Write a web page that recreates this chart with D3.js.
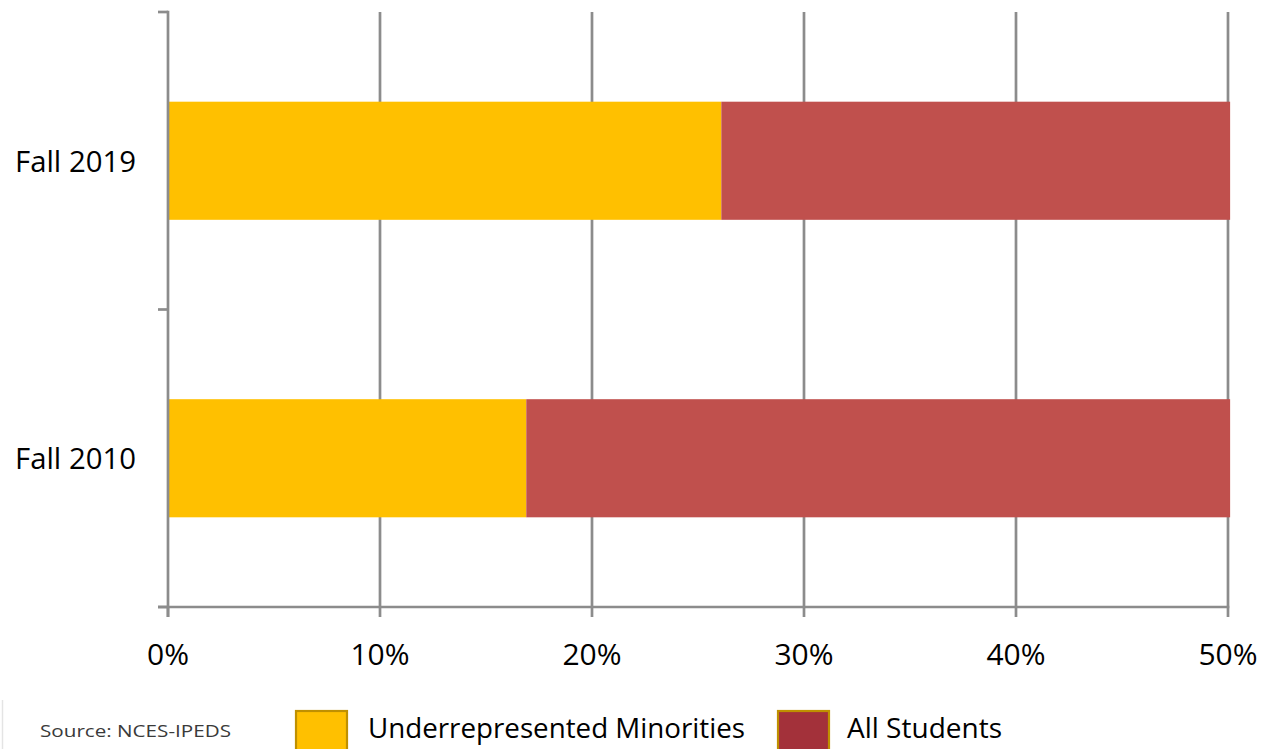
<!DOCTYPE html>
<html>
<head>
<meta charset="utf-8">
<script src="https://cdn.jsdelivr.net/npm/d3@7"></script>
<style>
  html, body { margin: 0; padding: 0; background: #fff; }
  svg { display: block; }
  text { font-family: "Open Sans", "Noto Sans", sans-serif; fill: #000; }
</style>
</head>
<body>
<svg id="chart" width="1275" height="749"></svg>
<script>
// Enrollment share by term (stacked horizontal bars)
const categories = ["Fall 2019", "Fall 2010"];
const seriesNames = ["Underrepresented Minorities", "All Students"];
const urmValues = [0.261, 0.169];
const allStudentsValues = [0.240, 0.332];
const xTickValues = [0, 0.1, 0.2, 0.3, 0.4, 0.5];
const sourceNote = "Source: NCES-IPEDS";

const colors = { "Underrepresented Minorities": "#FFC000", "All Students": "#C0504D" };
const legendFill = { "Underrepresented Minorities": "#FFC000", "All Students": "#A3313A" };
const gridColor = "#8C8C8C";

const svg = d3.select("#chart");
const plotLeft = 168, plotRight = 1228, plotTop = 12, plotBottom = 607;

const rows = categories.map((c, i) => ({
  category: c,
  "Underrepresented Minorities": urmValues[i],
  "All Students": allStudentsValues[i]
}));
const stacked = d3.stack().keys(seriesNames)(rows);

const x = d3.scaleLinear().domain([0, 0.5]).range([plotLeft, plotRight]);
const slot = d3.scaleBand().domain(categories).range([plotTop, plotBottom]).padding(0);
const barFrac = 0.397;

// vertical gridlines
svg.append("g").selectAll("line").data(xTickValues.slice(1)).join("line")
  .attr("x1", d => x(d)).attr("x2", d => x(d))
  .attr("y1", plotTop).attr("y2", plotBottom)
  .attr("stroke", gridColor).attr("stroke-width", 2.7);

// bars
svg.append("g").selectAll("g").data(stacked).join("g")
  .attr("fill", d => colors[d.key])
  .selectAll("rect").data(d => d).join("rect")
  .attr("x", d => x(d[0]))
  .attr("width", d => x(d[1]) - x(d[0]))
  .attr("y", d => slot(d.data.category) + slot.bandwidth() * (1 - barFrac) / 2)
  .attr("height", slot.bandwidth() * barFrac);

// y axis with ticks at category boundaries
const axisG = svg.append("g").attr("stroke", gridColor).attr("stroke-width", 2.7);
axisG.append("line").attr("x1", plotLeft).attr("x2", plotLeft).attr("y1", plotTop - 1.3).attr("y2", plotBottom + 10);
const boundaries = categories.map(c => slot(c)).concat([plotBottom]);
axisG.selectAll("line.yt").data(boundaries).join("line").attr("class", "yt")
  .attr("x1", plotLeft - 10).attr("x2", plotLeft).attr("y1", d => d).attr("y2", d => d);
// x axis
axisG.append("line").attr("x1", plotLeft - 10).attr("x2", plotRight + 1.3).attr("y1", plotBottom).attr("y2", plotBottom);
axisG.selectAll("line.xt").data(xTickValues).join("line").attr("class", "xt")
  .attr("x1", d => x(d)).attr("x2", d => x(d)).attr("y1", plotBottom).attr("y2", plotBottom + 10);

// x tick labels
svg.append("g").selectAll("text").data(xTickValues).join("text")
  .attr("x", d => x(d)).attr("y", 665)
  .attr("text-anchor", "middle").attr("font-size", 30)
  .text(d => d3.format(".0%")(d));

// category labels
svg.append("g").selectAll("text").data(categories).join("text")
  .attr("x", 136).attr("y", d => slot(d) + slot.bandwidth() / 2 + 11)
  .attr("text-anchor", "end").attr("font-size", 30)
  .attr("textLength", 121).attr("lengthAdjust", "spacingAndGlyphs")
  .text(d => d);

// legend
const legendItems = [
  { name: seriesNames[0], sx: 296, tx: 368, tw: 377 },
  { name: seriesNames[1], sx: 778, tx: 847, tw: 155 }
];
const lg = svg.append("g");
lg.selectAll("rect").data(legendItems).join("rect")
  .attr("x", d => d.sx).attr("y", 711).attr("width", 51).attr("height", 44)
  .attr("fill", d => legendFill[d.name]).attr("stroke", "#BF9000").attr("stroke-width", 2.2);
lg.selectAll("text").data(legendItems).join("text")
  .attr("x", d => d.tx).attr("y", 738).attr("font-size", 27)
  .attr("textLength", d => d.tw).attr("lengthAdjust", "spacingAndGlyphs")
  .text(d => d.name);

// source note
svg.append("line").attr("x1", 2.5).attr("x2", 2.5).attr("y1", 700).attr("y2", 749)
  .attr("stroke", "#E4E4E4").attr("stroke-width", 1.5);
svg.append("text").attr("x", 40).attr("y", 737).attr("font-size", 17)
  .attr("textLength", 191).attr("lengthAdjust", "spacingAndGlyphs")
  .style("fill", "#3a3a3a")
  .text(sourceNote);
</script>
</body>
</html>
